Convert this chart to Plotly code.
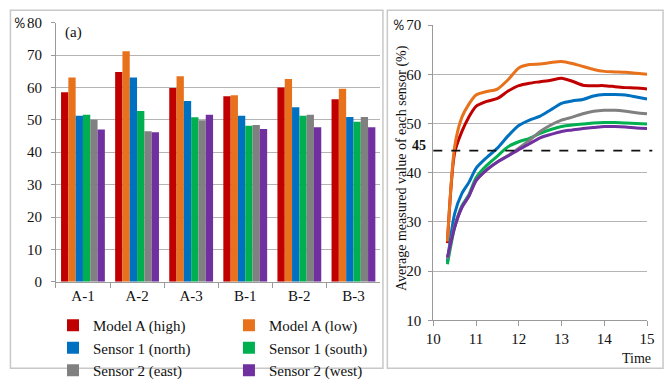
import plotly.graph_objects as go

# ---------------- data ----------------
categories = ["A-1", "A-2", "A-3", "B-1", "B-2", "B-3"]
series_names = ["Model A (high)", "Model A (low)", "Sensor 1 (north)",
                "Sensor 1 (south)", "Sensor 2 (east)", "Sensor 2 (west)"]
colors = ["#C00000", "#E8711C", "#0070C0", "#00B050", "#808080", "#7030A0"]

red_bar = [58.5, 64.8, 59.8, 57.3, 60.0, 56.4]
orange_bar = [63.1, 71.2, 63.5, 57.6, 62.6, 59.6]
blue_bar = [51.3, 63.1, 55.8, 51.3, 53.9, 50.9]
green_bar = [51.6, 52.7, 50.8, 48.2, 51.3, 49.4]
gray_bar = [50.0, 46.5, 49.9, 48.4, 51.6, 50.9]
purple_bar = [47.0, 46.2, 51.6, 47.2, 47.7, 47.7]
bar_values = [red_bar, orange_bar, blue_bar, green_bar, gray_bar, purple_bar]

times = [10.33, 10.5, 10.67, 10.83, 11.0, 11.25, 11.5, 11.75, 12.0, 12.25, 12.5,
         12.75, 13.0, 13.25, 13.5, 13.75, 14.0, 14.25, 14.5, 14.75, 15.0]
red_line = [25.7, 44.1, 48.4, 51.3, 53.5, 54.5, 55.1, 56.6, 57.7, 58.2, 58.5,
            58.8, 59.2, 58.6, 57.8, 57.7, 57.7, 57.5, 57.3, 57.2, 57.0]
orange_line = [26.0, 45.3, 51.3, 53.9, 55.8, 56.5, 57.0, 58.9, 61.3, 62.0, 62.1,
               62.4, 62.6, 62.2, 61.6, 61.0, 60.6, 60.5, 60.4, 60.2, 60.0]
blue_line = [21.9, 31.7, 35.8, 38.0, 40.9, 43.1, 45.0, 47.5, 49.6, 50.7, 51.5,
             52.8, 54.1, 54.6, 54.9, 55.6, 55.9, 55.9, 55.8, 55.4, 55.0]
green_line = [21.4, 28.9, 33.3, 35.5, 39.0, 41.5, 43.4, 45.3, 46.3, 47.0, 48.0,
              48.8, 49.4, 49.7, 49.9, 50.1, 50.2, 50.2, 50.1, 50.0, 49.9]
gray_line = [22.5, 29.2, 33.0, 35.2, 38.4, 40.6, 42.2, 43.5, 45.0, 46.6, 48.4,
             49.7, 50.7, 51.3, 52.0, 52.5, 52.7, 52.7, 52.5, 52.2, 52.0]
purple_line = [22.8, 28.9, 33.0, 35.2, 38.4, 40.6, 42.2, 43.4, 44.7, 45.9, 47.1,
               47.8, 48.4, 48.7, 49.0, 49.2, 49.4, 49.4, 49.3, 49.1, 49.0]
line_values = [red_line, orange_line, blue_line, green_line, gray_line, purple_line]

threshold = 44.5
threshold_label = "45"

left_ticks = [0, 10, 20, 30, 40, 50, 60, 70, 80]
left_ticktext = ["0", "10", "20", "30", "40", "50", "60", "70", "％80"]
right_ticks = [10, 20, 30, 40, 50, 60, 70]
right_ticktext = ["10", "20", "30", "40", "50", "60", "％70"]
hour_ticks = [10, 11, 12, 13, 14, 15]

W, H = 672, 387
FONT = "Liberation Serif"

fig = go.Figure()

# bars (left panel)
legend_for = ["legend", "legend2", "legend", "legend2", "legend", "legend2"]
for name, vals, c, lg in zip(series_names, bar_values, colors, legend_for):
    fig.add_trace(go.Bar(x=categories, y=vals, name=name, marker_color=c,
                         marker_line_width=0, xaxis="x", yaxis="y", legend=lg))

# lines (right panel)
for name, vals, c in zip(series_names, line_values, colors):
    fig.add_trace(go.Scatter(x=times, y=vals, name=name, mode="lines",
                             line=dict(color=c, width=3, shape="spline", smoothing=0.7),
                             xaxis="x2", yaxis="y2", showlegend=False))

grid = "#b4b4b4"
axline = "#9a9a9a"
tickfont = dict(family=FONT, size=15, color="#111")

fig.update_layout(
    width=W, height=H, margin=dict(l=0, r=0, t=0, b=0),
    paper_bgcolor="white", plot_bgcolor="white",
    font=dict(family=FONT, size=13, color="#111"),
    barmode="group", bargap=0.19, bargroupgap=0,
    xaxis=dict(domain=[49 / W, 381 / W], anchor="y", type="category",
               showline=True, linecolor=axline, linewidth=1,
               ticks="outside", tickson="boundaries", ticklen=5, tickcolor=axline,
               tickfont=tickfont, showgrid=False),
    yaxis=dict(domain=[1 - 292.7 / H, 1 - 15.7 / H], anchor="x", range=[0, 80],
               tickvals=left_ticks, ticktext=left_ticktext,
               showline=True, linecolor=axline, linewidth=1,
               ticks="outside", ticklen=4, tickcolor=axline,
               gridcolor=grid, gridwidth=1, zeroline=False,
               tickfont=tickfont, ticklabelstandoff=6),
    xaxis2=dict(domain=[435 / W, 653.6 / W], anchor="y2", range=[10, 15],
                tickvals=hour_ticks, ticktext=[str(v) for v in hour_ticks],
                showline=True, linecolor=axline, linewidth=1,
                ticks="outside", ticklen=5, tickcolor=axline,
                showgrid=False, zeroline=False, tickfont=tickfont),
    yaxis2=dict(domain=[1 - 334 / H, 1 - 18.3 / H], anchor="x2", range=[10, 70],
                tickvals=right_ticks, ticktext=right_ticktext,
                showline=True, linecolor=axline, linewidth=1,
                ticks="outside", ticklen=4, tickcolor=axline,
                gridcolor=grid, gridwidth=1, zeroline=False,
                tickfont=tickfont, ticklabelstandoff=4),
    legend=dict(x=46 / W, y=1 - 322 / H, xanchor="left", yanchor="top",
                font=dict(family=FONT, size=15), bgcolor="rgba(0,0,0,0)",
                tracegroupgap=0, itemwidth=30),
    legend2=dict(x=226 / W, y=1 - 322 / H, xanchor="left", yanchor="top",
                 font=dict(family=FONT, size=15), bgcolor="rgba(0,0,0,0)",
                 tracegroupgap=0, itemwidth=30),
    showlegend=True,
)

# panel borders
fig.add_shape(type="rect", xref="paper", yref="paper",
              x0=2.5 / W, x1=383.5 / W, y0=1 - 385 / H, y1=1 - 2.5 / H,
              line=dict(color="#c8c8c8", width=1.5))
fig.add_shape(type="rect", xref="paper", yref="paper",
              x0=388 / W, x1=670 / W, y0=1 - 385 / H, y1=1 - 2.5 / H,
              line=dict(color="#c8c8c8", width=1.5))

# threshold dashed line
fig.add_shape(type="line", xref="paper", yref="y2",
              x0=435 / W, x1=659 / W, y0=threshold, y1=threshold,
              line=dict(color="#111", width=1.6, dash="dash"))
fig.add_annotation(xref="paper", yref="y2", x=430 / W, y=threshold,
                   text="<b>" + threshold_label + "</b>", showarrow=False,
                   xanchor="right", yanchor="bottom", yshift=-4,
                   font=dict(family=FONT, size=14, color="#111"))

# panel label
fig.add_annotation(xref="paper", yref="paper", x=56 / W, y=1 - 26 / H,
                   text="(a)", showarrow=False, xanchor="left", yanchor="middle",
                   font=dict(family=FONT, size=15, color="#111"))

# right y title
fig.add_annotation(xref="paper", yref="paper", x=403 / W, y=1 - 171 / H,
                   text="Average measured value of each sensor (%)",
                   textangle=-90, showarrow=False, xanchor="center", yanchor="middle",
                   font=dict(family=FONT, size=14, color="#111"))

# right x title
fig.add_annotation(xref="paper", yref="paper", x=643 / W, y=1 - 375 / H,
                   text="Time", showarrow=False, xanchor="center", yanchor="middle",
                   font=dict(family=FONT, size=14, color="#111"))

fig.write_html("out.html")
